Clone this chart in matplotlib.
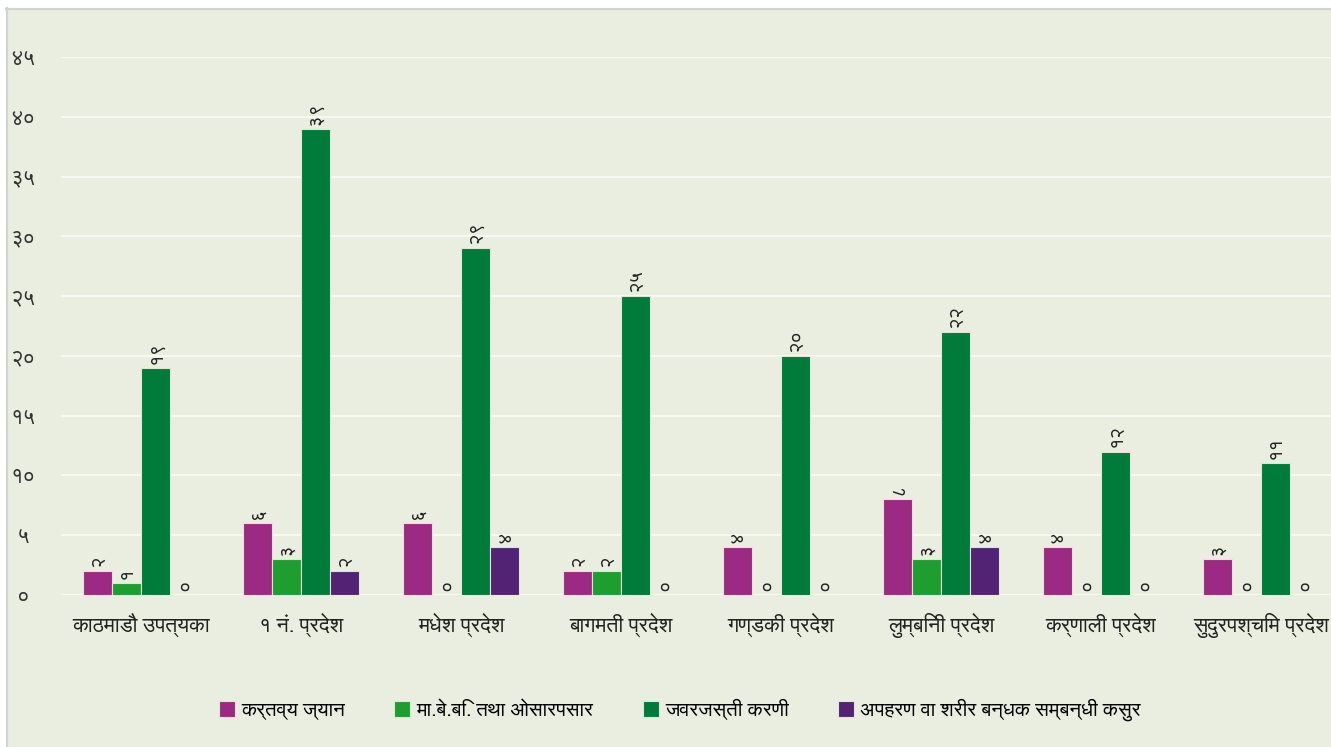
import matplotlib
matplotlib.use("Agg")
import matplotlib.pyplot as plt
from matplotlib import font_manager
from matplotlib.patches import Rectangle
from matplotlib.lines import Line2D
import numpy as np

categories = ["काठमाडौ उपत्यका", "१ नं. प्रदेश", "मधेश प्रदेश", "बागमती प्रदेश",
              "गण्डकी प्रदेश", "लुम्बिनी प्रदेश", "कर्णाली प्रदेश", "सुदुरपश्चिम प्रदेश"]
series_names = ["कर्तव्य ज्यान", "मा.बे.बि. तथा ओसारपसार", "जवरजस्ती करणी",
                "अपहरण वा शरीर बन्धक सम्बन्धी कसुर"]
murder = [2, 6, 6, 2, 4, 8, 4, 3]
trafficking = [1, 3, 0, 2, 0, 3, 0, 0]
rape = [19, 39, 29, 25, 20, 22, 12, 11]
kidnapping = [0, 2, 4, 0, 0, 4, 0, 0]
yticks = [0, 5, 10, 15, 20, 25, 30, 35, 40, 45]
colors = ["#9c2a82", "#1e9e2e", "#007b3a", "#522374"]

DEV = str.maketrans("0123456789", "०१२३४५६७८९")
def dev(n):
    return str(n).translate(DEV)

# pick a Devanagari font
prefs = ["FreeSans.ttf", "NotoSansDevanagari-Regular", "Mukta-Regular", "Hind-Regular"]
allf = font_manager.findSystemFonts()
fam = None
for p in prefs:
    for f in allf:
        if f.endswith(p) or p in f.split("/")[-1]:
            try:
                font_manager.fontManager.addfont(f)
                fam = font_manager.FontProperties(fname=f).get_name()
            except Exception:
                fam = None
            break
    if fam:
        break
plt.rcParams["font.family"] = ([fam] if fam else []) + ["DejaVu Sans"]

W, H = 1331, 747
bg = "#eaeee0"
fig = plt.figure(figsize=(W/100, H/100), dpi=100, facecolor="white")
# panel background with grey top/left border
fig.patches.append(Rectangle((6/W, 0), 1 - 6/W, 1 - 8/H, transform=fig.transFigure,
                             facecolor=bg, edgecolor="none", zorder=-10))
fig.lines.append(Line2D([6.5/W, 6.5/W], [0, 1 - 8/H], transform=fig.transFigure,
                        color="#d2d2d2", linewidth=1.6))
fig.lines.append(Line2D([6/W, 1], [1 - 8.5/H, 1 - 8.5/H], transform=fig.transFigure,
                        color="#d2d2d2", linewidth=1.6))

ax = fig.add_axes([61/W, 1-595/H, 1-61/W, (595-57)/H])
ax.set_facecolor("none")
renderer = fig.canvas.get_renderer()

def fit(text_obj, target, vertical=False):
    bb = text_obj.get_window_extent(renderer)
    cur = bb.height if vertical else bb.width
    if cur > 0:
        text_obj.set_fontsize(text_obj.get_fontsize() * target / cur)
    return text_obj.get_fontsize()

# calibrate sizes
probe = fig.text(0, 0, categories[0], fontsize=14)
xs = fit(probe, 141)
probe.set_text(dev(45)); probe.set_fontsize(12)
ys = fit(probe, 25)
probe.set_text(series_names[3]); probe.set_fontsize(14)
ls = fit(probe, 285)
probe.set_text(dev(19)); probe.set_fontsize(12); probe.set_rotation(90)
ds = fit(probe, 23, vertical=True)
probe.remove()

x = np.arange(len(categories))
w = 0.18125
data = [murder, trafficking, rape, kidnapping]
for i, (vals, c, name) in enumerate(zip(data, colors, series_names)):
    pos = x + (i - 1.5) * w
    ax.bar(pos, vals, w, color=c, edgecolor="#dfe6d4", linewidth=0.8,
           label=name, zorder=3)
    for xp, v in zip(pos, vals):
        ax.annotate(dev(v), (xp, v), xytext=(0, 3), textcoords="offset points",
                    rotation=90, ha="center", va="bottom",
                    fontsize=ds, color="#222222", zorder=4)

ax.set_xlim(-0.5, 7.5 - 10/160)
ax.set_ylim(0, 45)
ax.set_yticks(yticks)
ax.set_yticklabels([dev(t) for t in yticks], fontsize=ys, color="#333333", ha="center")
ax.tick_params(axis="y", length=0, pad=(61-23)*0.72)
ax.set_xticks(x)
ax.set_xticklabels(categories, fontsize=xs, color="#222222")
ax.tick_params(axis="x", length=0, pad=13)
for s in ax.spines.values():
    s.set_visible(False)
ax.grid(axis="y", color="#f7f8f2", linewidth=1.5, zorder=0)
ax.set_axisbelow(True)

fig.legend(loc="center", bbox_to_anchor=(680/W, 1-710/H), ncol=4,
           frameon=False, fontsize=ls, handlelength=0.8, handleheight=0.8,
           handletextpad=0.3, columnspacing=2.4)

fig.savefig("out.png", dpi=100, facecolor="white")
